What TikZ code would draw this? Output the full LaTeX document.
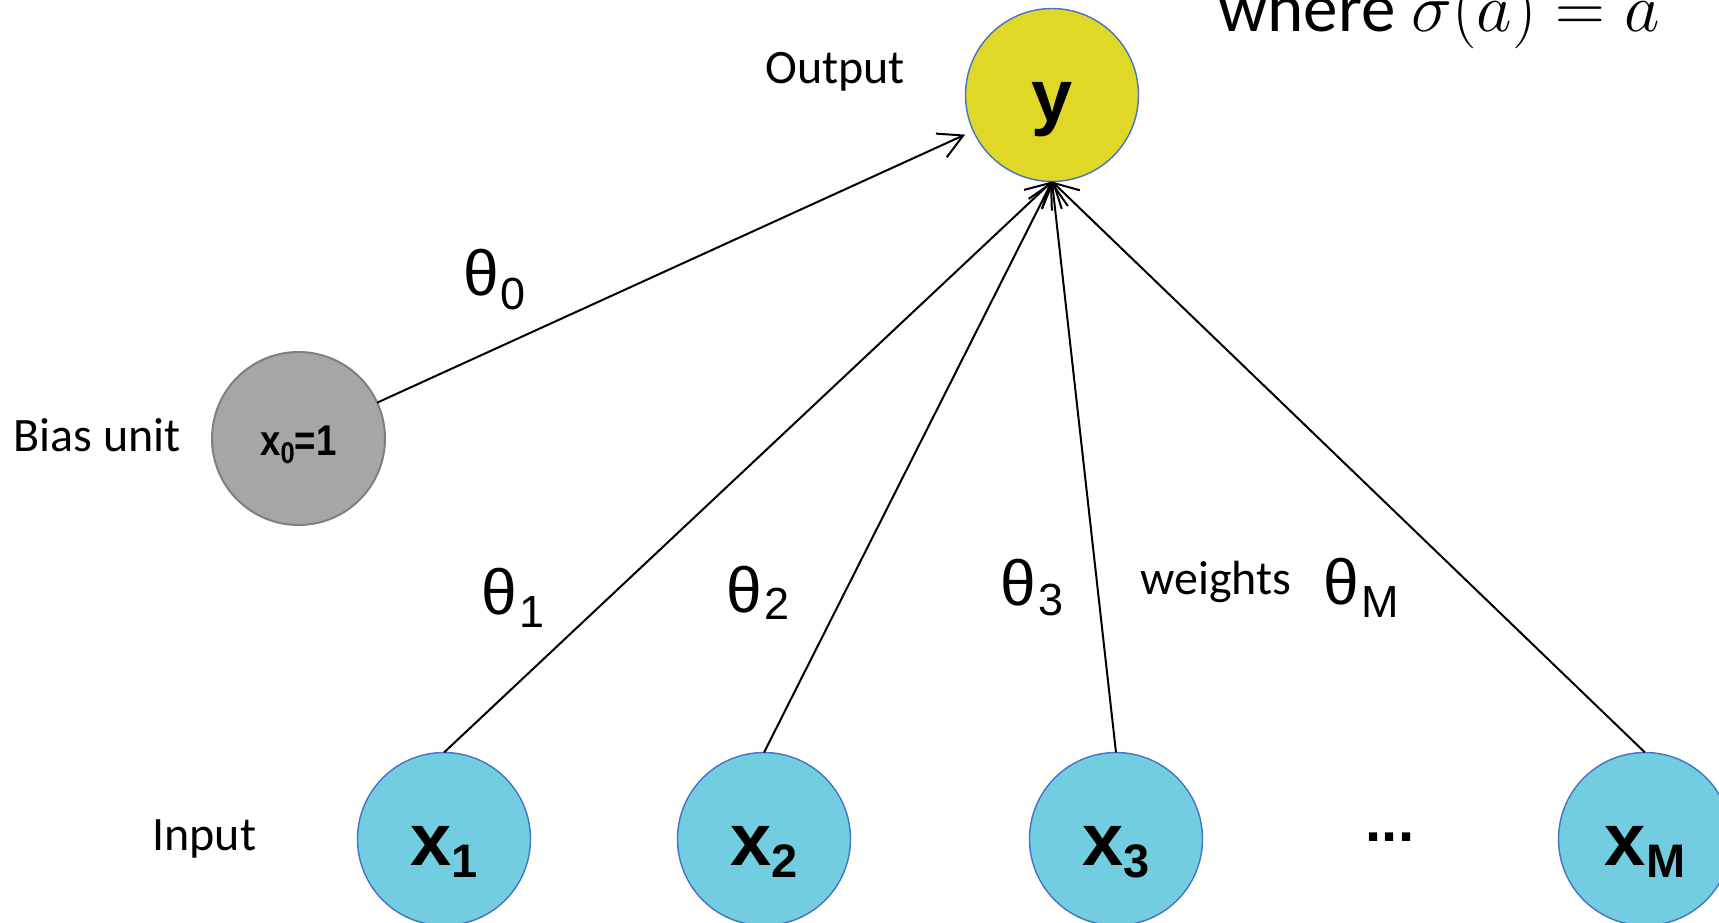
\documentclass[tikz,border=0pt]{standalone}
\usepackage{fix-cm}
\usepackage{fontspec}
\setmainfont{Liberation Sans}
\newfontfamily\calibri{Carlito}
\usetikzlibrary{arrows.meta}
\definecolor{yfill}{HTML}{DFD826}
\definecolor{cfill}{HTML}{72CDE1}
\definecolor{bfill}{HTML}{A6A6A6}
\definecolor{bdraw}{HTML}{7F7F7F}
\definecolor{cdraw}{HTML}{4472C4}
\newcommand\nsub[1]{\raisebox{-6pt}{\fontsize{23.5}{23.5}\selectfont #1}}
\newcommand\thsub[2]{\kern1pt\raisebox{-#1}{\fontsize{22.5}{22.5}\selectfont #2}}
\begin{document}
\begin{tikzpicture}[x=0.5pt,y=-0.5pt,
  neuron/.style={circle, minimum size=86.5pt, inner sep=0pt, outer sep=0pt, line width=0.7pt},
  outn/.style={neuron, fill=yfill, draw=cdraw},
  inn/.style={neuron, fill=cfill, draw=cdraw},
  biasn/.style={neuron, fill=bfill, draw=bdraw, line width=1pt},
  ntext/.style={font=\bfseries\fontsize{37}{37}\selectfont, inner sep=0pt, anchor=base},
  btext/.style={font=\bfseries\fontsize{21.5}{21.5}\selectfont, inner sep=0pt, anchor=base},
  thlab/.style={font=\fontsize{32}{32}\selectfont, inner sep=0pt, anchor=base west},
  lab/.style={font=\calibri\fontsize{24}{24}\selectfont, inner sep=0pt, anchor=base west},
  conn/.style={line width=1pt, -{Straight Barb[length=12pt,width=13pt]}}
]
\clip (0,0) rectangle (1719,922);
% neurons
\node[outn] (y) at (1052,95) {};
\node[biasn] (bias) at (298.5,438.5) {};
\node[inn] (x1) at (444,839) {};
\node[inn] (x2) at (764,839) {};
\node[inn] (x3) at (1116,839) {};
\node[inn] (xM) at (1645,839) {};
% texts in neurons
\node[ntext] (yt) at ([yshift=-13pt]y.center) {y};
\node[btext] (biast) at ([yshift=-8.25pt]bias.center) {\scalebox{0.85}[1]{x\raisebox{-4pt}{\fontsize{15}{15}\selectfont 0}=1}};
\node[ntext] (x1t) at ([yshift=-13pt]x1.center) {x\nsub{1}};
\node[ntext] (x2t) at ([yshift=-13pt]x2.center) {x\nsub{2}};
\node[ntext] (x3t) at ([yshift=-13pt]x3.center) {x\nsub{3}};
\node[ntext] (xMt) at ([yshift=-13pt]xM.center) {x\nsub{M}};
\node[font=\bfseries\fontsize{29}{29}\selectfont, inner sep=0pt, anchor=base] (dots) at (1390,841) {...};
% connectors
\draw[conn, shorten >=4.5pt] (bias) -- (y);
\draw[conn] (x1.north) -- (y.south);
\draw[conn] (x2.north) -- (y.south);
\draw[conn] (x3.north) -- (y.south);
\draw[conn] (xM.north) -- (y.south);
% weight labels
\node[thlab] (th0) at (463,295) {θ\thsub{7pt}{0}};
\node[thlab] (th1) at (481,614) {θ\thsub{6.5pt}{1}};
\node[thlab] (th2) at (726,612) {θ\thsub{3.5pt}{2}};
\node[thlab] (th3) at (1000,605) {θ\thsub{5pt}{3}};
\node[thlab] (thM) at (1323,604) {θ\thsub{6.5pt}{M}};
% side labels
\node[lab] (outl) at (765,83) {Output};
\node[lab] (biasl) at (13,451) {Bias unit};
\node[lab] (inl) at (152,850) {Input};
\node[lab] (wl) at (1140,594) {weights};
\node[font=\calibri\fontsize{34.5}{34.5}\selectfont, inner sep=0pt, anchor=base west] (where) at (1218,31) {where $\sigma(a) = a$};
\end{tikzpicture}
\end{document}
